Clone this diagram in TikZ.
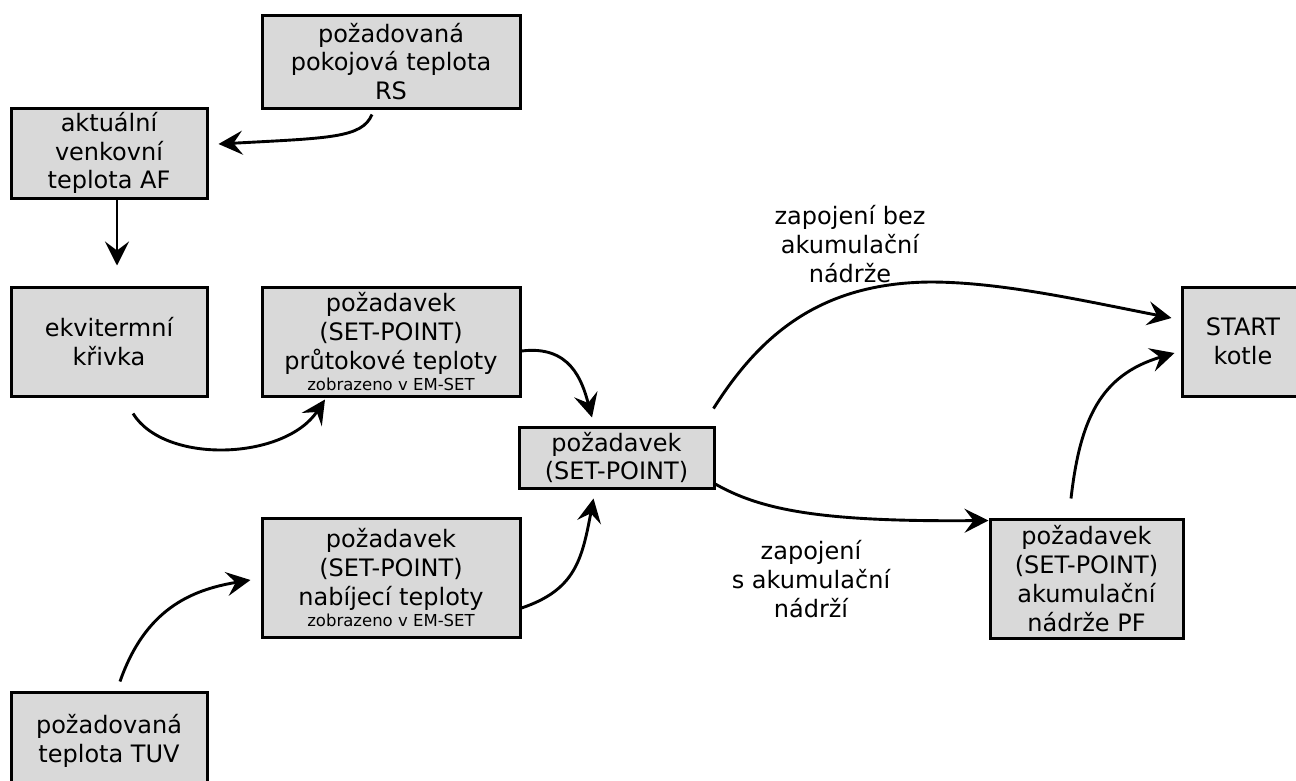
\documentclass[tikz,border=0pt]{standalone}
\usepackage{fontspec}
\setmainfont{DejaVu Sans}
\usetikzlibrary{arrows.meta}
\definecolor{boxgray}{RGB}{217,217,217}
\begin{document}
\begin{tikzpicture}[x=1pt,y=-1pt,
  box/.style={draw=black, line width=3pt, fill=boxgray, inner sep=0pt, align=center,
    font=\fontsize{24}{28.8}\selectfont},
  conn/.style={line width=2.9pt, -{Stealth[length=24pt,width=24pt,inset=9pt]}},
  lbl/.style={align=center, inner sep=0pt, font=\fontsize{24}{28.8}\selectfont}]
\useasboundingbox (0,0) rectangle (1296,780);
\clip (0,0) rectangle (1296,780);
\fill[white] (0,0) rectangle (1296,780);

% boxes
\node[box, minimum width=258, minimum height=93] (rs) at (391,61.5)
  {požadovaná\\pokojová teplota\\RS};
\node[box, minimum width=196, minimum height=90] (af) at (109,153)
  {aktuální\\venkovní\\teplota AF};
\node[box, minimum width=196, minimum height=109] (ekv) at (109,341.5)
  {ekvitermní\\křivka};
\node[box, minimum width=258, minimum height=109] (pr) at (391,341.5)
  {požadavek\\(SET-POINT)\\průtokové teploty\\[-8pt]{\fontsize{16.5}{19}\selectfont zobrazeno v EM-SET}};
\node[box, minimum width=195, minimum height=61] (sp) at (616.5,457.5)
  {požadavek\\(SET-POINT)};
\node[box, minimum width=258, minimum height=119] (nab) at (391,577.5)
  {požadavek\\(SET-POINT)\\nabíjecí teploty\\[-8pt]{\fontsize{16.5}{19}\selectfont zobrazeno v EM-SET}};
\node[box, minimum width=196, minimum height=98] (tuv) at (109,741)
  {požadovaná\\teplota TUV};
\node[box, minimum width=122, minimum height=109] (st) at (1243,341.5)
  {START\\kotle};
\node[box, minimum width=193, minimum height=119] (pf) at (1086.5,578.5)
  {požadavek\\(SET-POINT)\\akumulační\\nádrže PF};

% labels
\node[lbl] (l1) at (850,244) {zapojení bez\\akumulační\\nádrže};
\node[lbl] (l2) at (811,579) {zapojení\\s akumulační\\nádrží};

% connectors
\draw[conn] ([shift={(-19,5)}]rs.south) .. controls (362,138) and (330,138) .. ([shift={(10,-9)}]af.east);
\draw[conn] ([shift={(8,0)}]af.south) -- ([shift={(8,-20)}]ekv.north);
\draw[conn] ([shift={(24,16)}]ekv.south) .. controls (165,465) and (285,460) .. ([shift={(-66,2)}]pr.south);
\draw[conn] ([shift={(0,9.5)}]pr.east) .. controls (570,345) and (582,380) .. ([shift={(-24.5,-8)}]sp.north);
\draw[conn] ([shift={(0,30.5)}]nab.east) .. controls (575,590) and (582,560) .. ([shift={(-23,9)}]sp.south);
\draw[conn] ([shift={(11,-9)}]tuv.north) .. controls (145,610) and (190,590) .. ([shift={(-10,2.5)}]nab.west);
\draw[conn] ([shift={(-2,-17)}]sp.north east) .. controls (760,335) and (820,283) .. (930,282)
  .. controls (1000,282) and (1080,300) .. ([shift={(-9,-23.5)}]st.west);
\draw[conn] ([shift={(-2,25.5)}]sp.east) .. controls (760,510) and (820,522) .. ([shift={(0,3)}]pf.north west);
\draw[conn] ([shift={(-15.5,-19)}]pf.north) .. controls (1080,420) and (1100,375) .. ([shift={(-6,11.5)}]st.west);
\end{tikzpicture}
\end{document}
